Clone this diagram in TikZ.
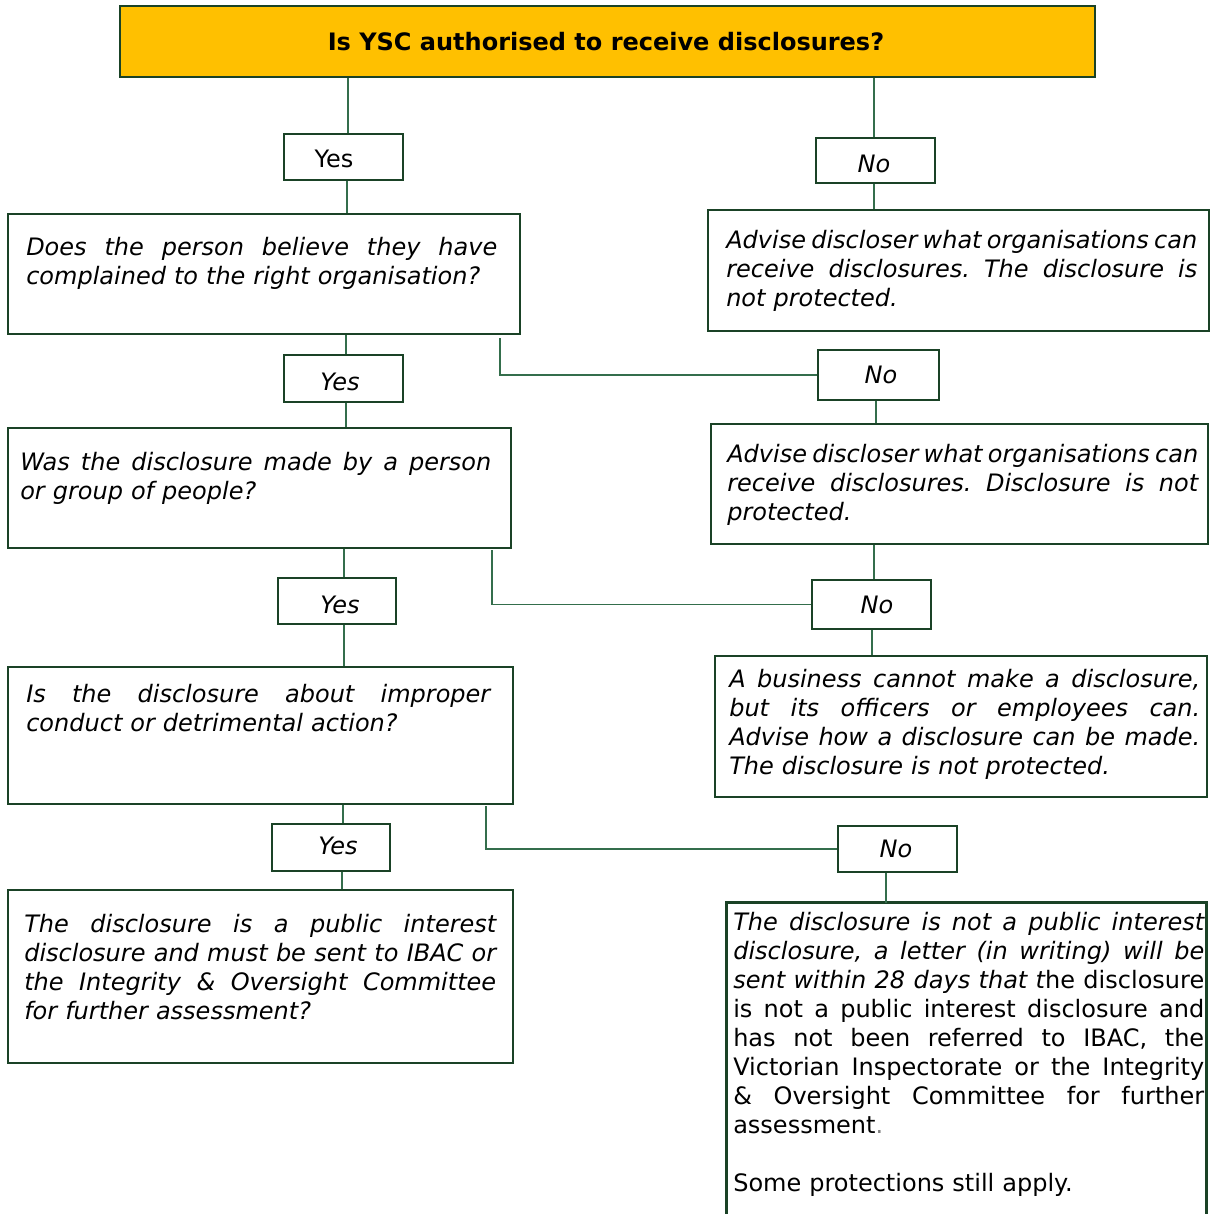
\documentclass[tikz,border=0pt]{standalone}
\usepackage{fontspec}
\setmainfont{DejaVu Sans}
\usetikzlibrary{fit,calc}
\definecolor{boxgreen}{RGB}{26,66,38}
\definecolor{linegreen}{RGB}{52,110,76}
\definecolor{titlefill}{HTML}{FFC000}
\setlength\parindent{0pt}
\frenchspacing
\newcommand\bodysize{\fontsize{18pt}{21.75pt}\selectfont}
\newcommand\jline[1]{\makebox[\hsize][s]{\spaceskip=0pt\xspaceskip=0pt\frenchspacing #1}}
\newcommand\topstrut{\rule{0pt}{15pt}}
\tikzset{
  box/.style={draw=boxgreen, line width=2.2pt, inner sep=0pt},
  titlebox/.style={box, fill=titlefill},
  conn/.style={draw=linegreen, line width=1pt},
  body/.style={anchor=north west, inner sep=0pt, align=left, font=\bodysize\itshape},
  lbl/.style={anchor=base, inner sep=0pt, font=\bodysize},
}
\begin{document}
\begin{tikzpicture}[x=0.75pt, y=-0.75pt]
\useasboundingbox (0,0) rectangle (1213,1214);

% boxes
\node[titlebox, fit={(120,6)(1095,77)}] (title) {};
\node[box, fit={(284,134)(403,180)}] (yes1) {};
\node[box, fit={(816,138)(935,183)}] (no1) {};
\node[box, fit={(8,214)(520,334)}] (q1) {};
\node[box, fit={(708,210)(1209,331)}] (a1) {};
\node[box, fit={(284,355)(403,402)}] (yes2) {};
\node[box, fit={(818,350)(939,400)}] (no2) {};
\node[box, fit={(8,428)(511,548)}] (q2) {};
\node[box, fit={(711,424)(1208,544)}] (a2) {};
\node[box, fit={(278,578)(396,624)}] (yes3) {};
\node[box, fit={(812,580)(931,629)}] (no3) {};
\node[box, fit={(8,667)(513,804)}] (q3) {};
\node[box, fit={(715,656)(1207,797)}] (a3) {};
\node[box, fit={(272,824)(390,871)}] (yes4) {};
\node[box, fit={(838,826)(957,872)}] (no4) {};
\node[box, fit={(8,890)(513,1063)}] (q4) {};
\node[inner sep=0pt, fit={(727,903)(1206,1214)}] (a4) {};
\draw[boxgreen, line width=2.2pt] (a4.south west) |- (a4.north east) -- (a4.south east);

% vertical connectors
\draw[conn] ([xshift=3.4pt]title.south -| yes1.north) -- ([xshift=3.4pt]yes1.north);
\draw[conn] ([xshift=2.6pt]yes1.south) -- ([xshift=2.6pt]q1.north -| yes1.south);
\draw[conn] ([xshift=-1.1pt]title.south -| no1.north) -- ([xshift=-1.1pt]no1.north);
\draw[conn] ([xshift=-1.1pt]no1.south) -- ([xshift=-1.1pt]a1.north -| no1.south);
\draw[conn] ([xshift=1.9pt]q1.south -| yes2.north) -- ([xshift=1.9pt]yes2.north);
\draw[conn] ([xshift=1.9pt]yes2.south) -- ([xshift=1.9pt]q2.north -| yes2.south);
\draw[conn] ([xshift=-1.9pt]no2.south) -- ([xshift=-1.9pt]a2.north -| no2.south);
\draw[conn] ([xshift=5.25pt]q2.south -| yes3.north) -- ([xshift=5.25pt]yes3.north);
\draw[conn] ([xshift=5.25pt]yes3.south) -- ([xshift=5.25pt]q3.north -| yes3.south);
\draw[conn] ([xshift=1.9pt]a2.south -| no3.north) -- ([xshift=1.9pt]no3.north);
\draw[conn] ([xshift=0.4pt]no3.south) -- ([xshift=0.4pt]a3.north -| no3.south);
\draw[conn] ([xshift=9pt]q3.south -| yes4.north) -- ([xshift=9pt]yes4.north);
\draw[conn] ([xshift=8.25pt]yes4.south) -- ([xshift=8.25pt]q4.north -| yes4.south);
\draw[conn] ([xshift=-8.6pt]no4.south) -- ([xshift=-8.6pt]a4.north -| no4.south);

% branch connectors
\coordinate (b1) at (500,338);
\coordinate (b2) at (492,550);
\coordinate (b3) at (486,806);
\draw[conn] (b1) |- (no2.west);
\draw[conn] (b2) |- (no3.west);
\draw[conn] (b3) |- (no4.west);

% labels
\node[lbl, font=\bodysize\bfseries] (ttl) at (606,50) {Is YSC authorised to receive disclosures?};
\node[lbl] (tyes1) at (334,167) {Yes};
\node[lbl, font=\bodysize\itshape] (tno1) at (874,172) {No};
\node[lbl, font=\bodysize\itshape] (tyes2) at (340,390) {Yes};
\node[lbl, font=\bodysize\itshape] (tno2) at (881,383) {No};
\node[lbl, font=\bodysize\itshape] (tyes3) at (340,613) {Yes};
\node[lbl, font=\bodysize\itshape] (tno3) at (877,613) {No};
\node[lbl, font=\bodysize\itshape] (tyes4) at (338,854) {Yes};
\node[lbl, font=\bodysize\itshape] (tno4) at (896,857) {No};

% body texts
\node[body, text width=353.25pt] (tq1) at (26,235) {\topstrut\jline{Does the person believe they have}\\complained to the right organisation?};
\node[body, text width=353.25pt] (ta1) at (726,228) {\topstrut\jline{Advise discloser what organisations can}\\\jline{receive disclosures. The disclosure is}\\not protected.};
\node[body, text width=353.25pt] (tq2) at (20,450) {\topstrut\jline{Was the disclosure made by a person}\\or group of people?};
\node[body, text width=353.25pt] (ta2) at (727,442) {\topstrut\jline{Advise discloser what organisations can}\\\jline{receive disclosures. Disclosure is not}\\protected.};
\node[body, text width=348pt] (tq3) at (26,682) {\topstrut\jline{Is the disclosure about improper}\\conduct or detrimental action?};
\node[body, text width=353.25pt] (ta3) at (729,667) {\topstrut\jline{A business cannot make a disclosure,}\\\jline{but its officers or employees can.}\\\jline{Advise how a disclosure can be made.}\\The disclosure is not protected.};
\node[body, text width=354pt] (tq4) at (24,912) {\topstrut\jline{The disclosure is a public interest}\\\jline{disclosure and must be sent to IBAC or}\\\jline{the Integrity \& Oversight Committee}\\for further assessment?};
\node[body, text width=353.25pt] (ta4) at (733,910) {\topstrut\jline{The disclosure is not a public interest}\\\jline{disclosure, a letter (in writing) will be}\\\jline{sent within 28 days that t\upshape he disclosure}\\\upshape\jline{is not a public interest disclosure and}\\\jline{has not been referred to IBAC, the}\\\jline{Victorian Inspectorate or the Integrity}\\\jline{\& Oversight Committee for further}\\assessment{\color{gray}.}\\[21.75pt]Some protections still apply.};
\end{tikzpicture}
\end{document}
